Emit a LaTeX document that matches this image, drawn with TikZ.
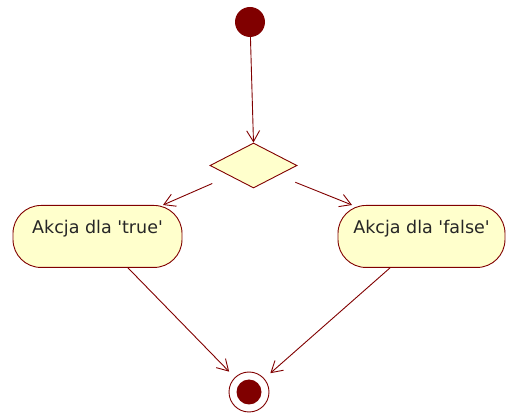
\documentclass[tikz,border=0pt]{standalone}
\usepackage{fontspec}
\setmainfont{DejaVu Sans}
\usetikzlibrary{shapes.geometric,arrows.meta,calc}
\definecolor{umlred}{RGB}{128,0,0}
\definecolor{umlfill}{RGB}{255,255,204}
\begin{document}
\begin{tikzpicture}[x=1pt,y=-1pt,
  flow/.style={draw=umlred,line width=0.9pt,
    -{Straight Barb[length=11pt,width=13pt,line width=0.9pt]}},
  initial/.style={circle,fill=umlred,minimum size=30pt,inner sep=0pt},
  decision/.style={diamond,draw=umlred,fill=umlfill,line width=0.9pt,
    minimum width=87pt,minimum height=45pt,inner sep=0pt},
  action/.style={draw=umlred,fill=umlfill,line width=0.9pt,rounded corners=28pt,
    inner xsep=0pt,inner ysep=0pt,text height=28pt,text depth=34pt,anchor=north,
    text=black!85,font=\fontsize{17.5}{20}\selectfont},
  finalring/.style={circle,draw=umlred,fill=white,line width=0.9pt,minimum size=40pt,inner sep=0pt},
  finalcore/.style={circle,fill=umlred,minimum size=25pt,inner sep=0pt}
]
\useasboundingbox (0,0) rectangle (507,414);

% nodes
\node[initial] (start) at (250,22) {};
\node[decision] (dec) at (253.5,165.5) {};
\node[action,minimum width=169pt] (ltrue) at (97.5,205)
  {Akcja dla \textquotesingle true\textquotesingle};
\node[action,minimum width=167pt] (lfalse) at (421.5,205)
  {Akcja dla \textquotesingle false\textquotesingle};
\node[finalring] (final) at (249,392) {};
\node[finalcore] (finaldot) at (final) {};

% control flows
\draw[flow] (start) -- (dec.north);
\draw[flow,shorten <=45pt] (dec.center) -- ($(ltrue.north)+(65.5,0)$);
\draw[flow,shorten <=45pt] (dec.center) -- ($(lfalse.north)+(-69.5,0)$);
\draw[flow,shorten >=8pt] ($(ltrue.south)+(30.5,0)$) -- (final);
\draw[flow,shorten >=8pt] ($(lfalse.south)+(-31.5,0)$) -- (final);
\end{tikzpicture}
\end{document}
